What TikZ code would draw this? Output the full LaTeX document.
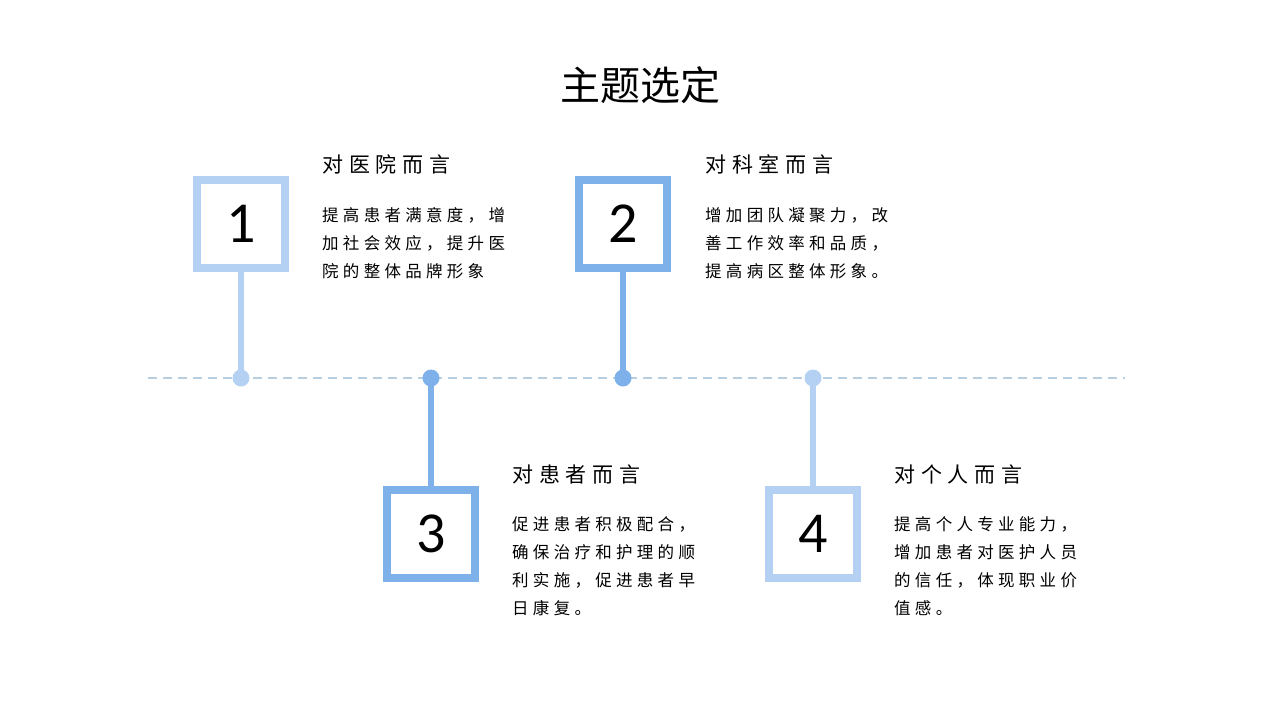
\documentclass[tikz,border=0pt]{standalone}
\usepackage{fontspec}
\newfontfamily\cjk{Noto Sans CJK SC}
\newfontfamily\cjkhead[LetterSpace=28]{Noto Sans CJK SC}
\newfontfamily\cjkbody[LetterSpace=26]{Noto Sans CJK SC}
\newfontfamily\numfont{Carlito}
\definecolor{lightb}{HTML}{B4D1F3}
\definecolor{darkb}{HTML}{7EB0EA}
\definecolor{dashc}{HTML}{B7CDE0}
\tikzset{
  numbox/.style={draw=#1, line width=8pt, fill=white, minimum size=88pt, inner sep=0pt,
    font=\numfont\fontsize{58}{58}\selectfont},
  stem/.style={draw=#1, line width=6pt},
  dotnode/.style={circle, fill=#1, minimum size=17pt, inner sep=0pt},
  headtext/.style={anchor=west, inner sep=0pt, font=\cjkhead\fontsize{21}{21}\selectfont},
  bodytext/.style={anchor=north west, inner sep=0pt, align=left, font=\cjkbody\fontsize{16.5}{28}\selectfont},
}
\begin{document}
\begin{tikzpicture}[x=1pt,y=-1pt]
\useasboundingbox (0,0) rectangle (1280,720);
\node[font=\cjk\fontsize{40}{40}\selectfont] (title) at (640,85) {主题选定};
% timeline
\coordinate (lstart) at (148,378);
\coordinate (lend) at (1125,378);
\draw[dashc, line width=1.5pt, dash pattern=on 9pt off 6pt] (lstart) -- (lend);
% dots
\node[dotnode=lightb] (d1) at (241,378) {};
\node[dotnode=darkb] (d2) at (623,378) {};
\node[dotnode=darkb] (d3) at (431,378) {};
\node[dotnode=lightb] (d4) at (813,378) {};
% boxes
\node[numbox=lightb] (b1) at (241,223.5) {1};
\node[numbox=darkb] (b2) at (623,223.5) {2};
\node[numbox=darkb] (b3) at (431,533.5) {3};
\node[numbox=lightb] (b4) at (813,533.5) {4};
% stems
\draw[stem=lightb] (b1.south) -- (d1.center);
\draw[stem=darkb] (b2.south) -- (d2.center);
\draw[stem=darkb] (b3.north) -- (d3.center);
\draw[stem=lightb] (b4.north) -- (d4.center);
% texts
\node[headtext] (h1) at (322,164) {对医院而言};
\node[bodytext] (t1) at (322,207) {提高患者满意度，增\\加社会效应，提升医\\院的整体品牌形象};
\node[headtext] (h2) at (705,164) {对科室而言};
\node[bodytext] (t2) at (705,207) {增加团队凝聚力，改\\善工作效率和品质，\\提高病区整体形象。};
\node[headtext] (h3) at (512,474) {对患者而言};
\node[bodytext] (t3) at (512,516) {促进患者积极配合，\\确保治疗和护理的顺\\利实施，促进患者早\\日康复。};
\node[headtext] (h4) at (894,474) {对个人而言};
\node[bodytext] (t4) at (894,516) {提高个人专业能力，\\增加患者对医护人员\\的信任，体现职业价\\值感。};
\end{tikzpicture}
\end{document}
